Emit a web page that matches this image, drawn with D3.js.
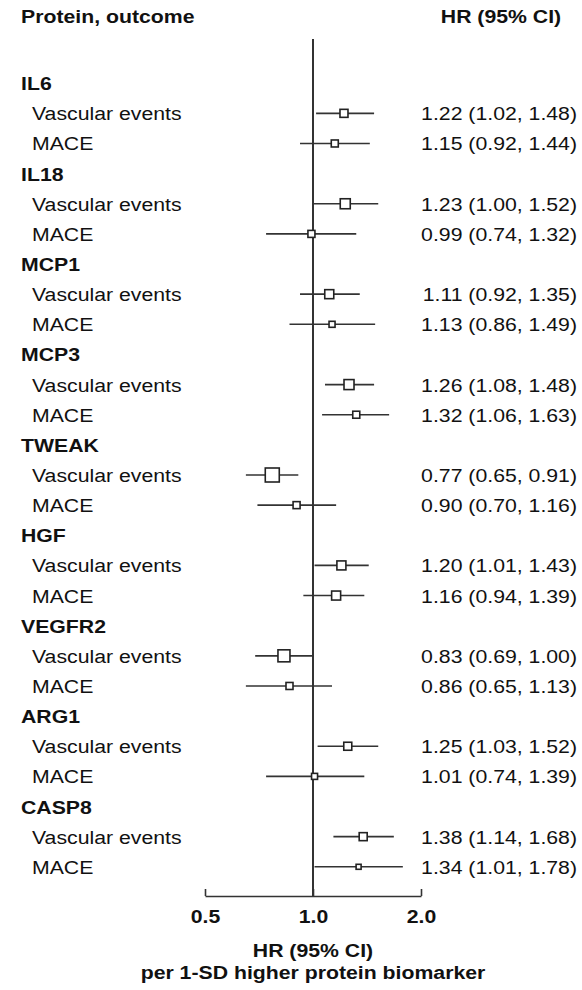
<!DOCTYPE html>
<html>
<head>
<meta charset="utf-8">
<script src="https://cdn.jsdelivr.net/npm/d3@7"></script>
<style>
  html, body { margin: 0; padding: 0; background: #fff; }
  svg { display: block; }
  text { font-family: "Liberation Sans", Arial, sans-serif; fill: #111; }
</style>
</head>
<body>
<svg id="chart" width="582" height="990"></svg>
<script>
// ---- data ----
const proteins = ["IL6", "IL18", "MCP1", "MCP3", "TWEAK", "HGF", "VEGFR2", "ARG1", "CASP8"];
const outcomes = ["Vascular events", "MACE"];

const hrVascular = [1.22, 1.23, 1.11, 1.26, 0.77, 1.20, 0.83, 1.25, 1.38];
const loVascular = [1.02, 1.00, 0.92, 1.08, 0.65, 1.01, 0.69, 1.03, 1.14];
const hiVascular = [1.48, 1.52, 1.35, 1.48, 0.91, 1.43, 1.00, 1.52, 1.68];

const hrMace = [1.15, 0.99, 1.13, 1.32, 0.90, 1.16, 0.86, 1.01, 1.34];
const loMace = [0.92, 0.74, 0.86, 1.06, 0.70, 0.94, 0.65, 0.74, 1.01];
const hiMace = [1.44, 1.32, 1.49, 1.63, 1.16, 1.39, 1.13, 1.39, 1.78];

// relative weights (marker size)
const weightVascular = [8, 10, 9, 10, 14, 9, 12, 8, 8];
const weightMace = [7, 7, 6, 7, 7, 9, 7, 6, 5];

const tickValues = [0.5, 1.0, 2.0];
const headerLeft = "Protein, outcome";
const headerRight = "HR (95% CI)";
const axisTitle = ["HR (95% CI)", "per 1-SD higher protein biomarker"];

// ---- build rows ----
const rows = [];
proteins.forEach((p, i) => {
  rows.push({ type: "group", label: p });
  rows.push({ type: "est", label: outcomes[0], hr: hrVascular[i], lo: loVascular[i], hi: hiVascular[i], w: weightVascular[i] });
  rows.push({ type: "est", label: outcomes[1], hr: hrMace[i], lo: loMace[i], hi: hiMace[i], w: weightMace[i] });
});
rows.forEach((r, i) => r.idx = i);

const svg = d3.select("#chart");
const STRETCH = 1.18;
const FS = 18;
const ink = "#333";

const x = d3.scaleLog().domain([0.5, 2]).range([205, 421]);
const y = d3.scaleLinear().domain([0, rows.length - 1]).range([83.2, 866.8]);
const size = d3.scaleLinear().domain([0, 14]).range([0, 14]);
const axisY = 896;

function stretch(sel) {
  sel.each(function () {
    const w = this.getComputedTextLength();
    d3.select(this).attr("textLength", w * STRETCH).attr("lengthAdjust", "spacingAndGlyphs");
  });
}

// headers
svg.append("text").attr("x", 21).attr("y", 23).attr("font-size", FS).attr("font-weight", "bold")
  .text(headerLeft).call(stretch);
svg.append("text").attr("x", 501).attr("y", 23).attr("font-size", FS).attr("font-weight", "bold")
  .attr("text-anchor", "middle").text(headerRight).call(stretch);

// reference line at 1.0
svg.append("line").attr("x1", x(1)).attr("x2", x(1)).attr("y1", 39).attr("y2", axisY)
  .attr("stroke", ink).attr("stroke-width", 2);

// labels
svg.selectAll("text.lab").data(rows).enter().append("text")
  .attr("class", "lab")
  .attr("x", d => d.type === "group" ? 21 : 32)
  .attr("y", d => y(d.idx) + 7)
  .attr("font-size", FS)
  .attr("font-weight", d => d.type === "group" ? "bold" : "normal")
  .text(d => d.label)
  .call(stretch);

const est = rows.filter(d => d.type === "est");
const f2 = d3.format(".2f");

// CI lines
svg.selectAll("line.ci").data(est).enter().append("line")
  .attr("class", "ci")
  .attr("x1", d => x(d.lo)).attr("x2", d => x(d.hi))
  .attr("y1", d => y(d.idx)).attr("y2", d => y(d.idx))
  .attr("stroke", ink).attr("stroke-width", 1.6);

// boxes
svg.selectAll("rect.pt").data(est).enter().append("rect")
  .attr("class", "pt")
  .attr("x", d => x(d.hr) - size(d.w) / 2)
  .attr("y", d => y(d.idx) - size(d.w) / 2)
  .attr("width", d => size(d.w)).attr("height", d => size(d.w))
  .attr("fill", "#fff").attr("stroke", "#222").attr("stroke-width", 1.6);

// HR text
svg.selectAll("text.hr").data(est).enter().append("text")
  .attr("class", "hr")
  .attr("x", 577).attr("y", d => y(d.idx) + 7)
  .attr("text-anchor", "end").attr("font-size", FS)
  .text(d => `${f2(d.hr)} (${f2(d.lo)}, ${f2(d.hi)})`)
  .call(stretch);

// axis
const axis = d3.axisBottom(x).tickValues(tickValues).tickFormat(d3.format(".1f"))
  .tickSizeInner(-7).tickSizeOuter(0).tickPadding(14);
const gA = svg.append("g").attr("transform", `translate(0,${axisY})`).call(axis);
gA.select(".domain").attr("stroke", ink).attr("stroke-width", 1.6);
gA.selectAll(".tick line").attr("stroke", ink).attr("stroke-width", 1.6);
gA.selectAll(".tick text").attr("font-size", FS).attr("font-weight", "bold")
  .attr("font-family", "Liberation Sans, Arial, sans-serif").attr("fill", "#111").call(stretch);

// axis title
svg.selectAll("text.at").data(axisTitle).enter().append("text")
  .attr("class", "at")
  .attr("x", x(1)).attr("y", (d, i) => 957 + i * 22)
  .attr("text-anchor", "middle").attr("font-size", FS).attr("font-weight", "bold")
  .text(d => d).call(stretch);
</script>
</body>
</html>
